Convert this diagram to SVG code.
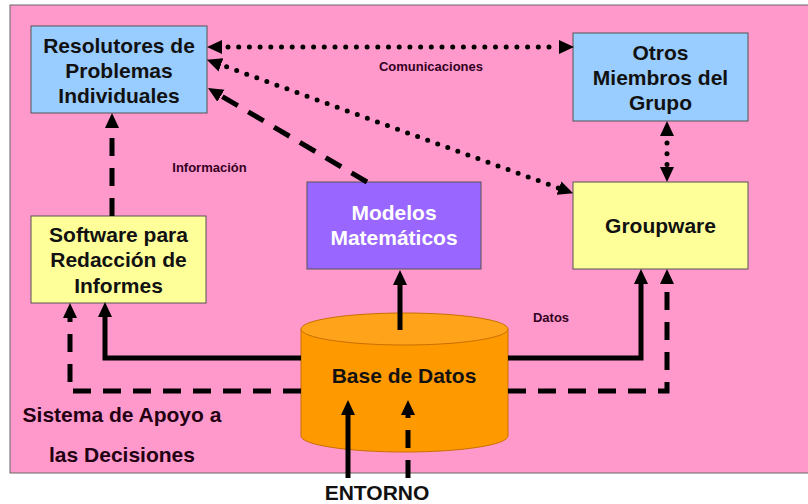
<svg xmlns="http://www.w3.org/2000/svg" width="808" height="504" viewBox="0 0 808 504">
<style>
.box{stroke:#555;stroke-width:1}
.blue{fill:#99ccff}
.yellow{fill:#ffff99}
.purple{fill:#9966ff}
.t{font-family:"Liberation Sans",Arial,sans-serif;font-weight:bold;font-size:21px;fill:#111;text-anchor:middle}
.w{fill:#fff}
.lbl{font-family:"Liberation Sans",Arial,sans-serif;font-weight:bold;font-size:13px;fill:#330022;text-anchor:middle}
.big{font-size:21px;fill:#220011}
.solid{fill:none;stroke:#000;stroke-width:5}
.dash{fill:none;stroke:#000;stroke-width:5;stroke-dasharray:18 12}
.dot{fill:none;stroke:#000;stroke-width:5;stroke-linecap:round;stroke-dasharray:0 10.7}
</style>
<defs>
<marker id="ah" markerUnits="userSpaceOnUse" markerWidth="15" markerHeight="15" refX="0" refY="7" orient="auto-start-reverse" viewBox="0 0 15 14">
<path d="M0,0 L15,7 L0,14 z" fill="#000"/>
</marker>
</defs>
<rect x="10" y="5" width="802" height="468" fill="#ff99cc" stroke="#666" stroke-width="1"/>

<g id="resolutores">
<rect class="box blue" x="31" y="26" width="176" height="87"/>
<text class="t" x="119" y="53">Resolutores de</text>
<text class="t" x="119" y="78">Problemas</text>
<text class="t" x="119" y="103">Individuales</text>
</g>

<g id="otros">
<rect class="box blue" x="573" y="33" width="175" height="88"/>
<text class="t" x="660.5" y="60">Otros</text>
<text class="t" x="660.5" y="85">Miembros del</text>
<text class="t" x="660.5" y="110">Grupo</text>
</g>

<g id="groupware">
<rect class="box yellow" x="573" y="182" width="175" height="87"/>
<text class="t" x="660.5" y="233">Groupware</text>
</g>

<g id="modelos">
<rect class="box purple" x="307" y="182" width="174" height="87"/>
<text class="t w" x="394" y="220">Modelos</text>
<text class="t w" x="394" y="245">Matemáticos</text>
</g>

<g id="software">
<rect class="box yellow" x="31" y="216" width="175" height="87"/>
<text class="t" x="118.5" y="242">Software para</text>
<text class="t" x="118.5" y="267">Redacción de</text>
<text class="t" x="118.5" y="293">Informes</text>
</g>

<g id="basedatos">
<path d="M301,329 V436 A103.5,16 0 0 0 508,436 V329 Z" fill="#ff9900" stroke="#c87000" stroke-width="1"/>
<ellipse cx="404.5" cy="329" rx="103.5" ry="16" fill="#ffa31a" stroke="#c87000" stroke-width="1"/>
<text class="t" x="404" y="383">Base de Datos</text>
</g>

<g id="connectors">
<path class="solid" d="M301,358 H105 V317" marker-end="url(#ah)"/>
<path class="solid" d="M508,358 H641 V284" marker-end="url(#ah)"/>
<path class="dash" d="M301,391 H70 V318" marker-end="url(#ah)"/>
<path class="dash" d="M508,391 H667 V284" marker-end="url(#ah)"/>
<path class="solid" d="M400,330 V285" marker-end="url(#ah)"/>
<path class="solid" d="M348,478 V415" marker-end="url(#ah)"/>
<path class="dash" d="M408,478 V415" marker-end="url(#ah)"/>
<path class="dash" d="M112,216 V128" marker-end="url(#ah)"/>
<path class="dash" d="M367,182 L220.9,95.7" marker-end="url(#ah)"/>
<path class="dot" style="stroke-dashoffset:-6" d="M222,47 H559" marker-start="url(#ah)" marker-end="url(#ah)"/>
<path class="dot" style="stroke-dashoffset:-6" d="M221,64.8 L559,188.2" marker-start="url(#ah)" marker-end="url(#ah)"/>
<path class="dot" style="stroke-dashoffset:-7" d="M667,136 V167" marker-start="url(#ah)" marker-end="url(#ah)"/>
</g>

<g id="labels">
<text class="lbl" x="431" y="71">Comunicaciones</text>
<text class="lbl" x="209.5" y="172">Información</text>
<text class="lbl" x="551" y="322">Datos</text>
<text class="t big" x="122" y="422">Sistema de Apoyo a</text>
<text class="t big" x="122" y="462">las Decisiones</text>
<text class="t" x="377" y="500">ENTORNO</text>
</g>
</svg>
